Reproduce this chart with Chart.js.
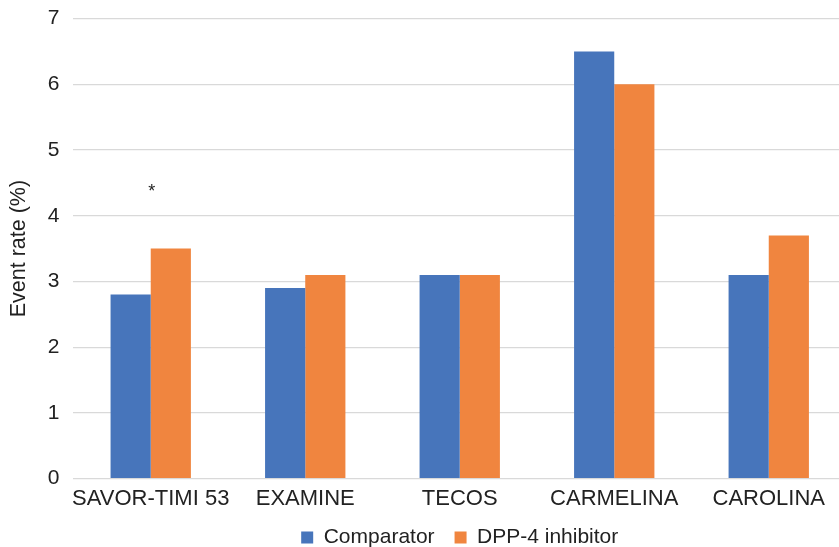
<!DOCTYPE html>
<html>
<head>
<meta charset="utf-8">
<script src="https://cdn.jsdelivr.net/npm/chart.js@4"></script>
<style>
  html, body { margin: 0; padding: 0; background: #fff; overflow: hidden; }
  #wrap { width: 846px; height: 566px; position: relative; top: -8px; }
</style>
</head>
<body>
<div id="wrap"><canvas id="eventChart"></canvas></div>
<script>
// Chart data
const trials = ['SAVOR-TIMI 53', 'EXAMINE', 'TECOS', 'CARMELINA', 'CAROLINA'];
const comparatorRates = [2.8, 2.9, 3.1, 6.5, 3.1];
const dpp4Rates = [3.5, 3.1, 3.1, 6.0, 3.7];
const yTicks = [0, 1, 2, 3, 4, 5, 6, 7];

// Significance mark above SAVOR-TIMI 53
const starTrial = 0;
const starValue = 4.4;

const FONT = "'Liberation Sans', Arial, sans-serif";

const starPlugin = {
    id: 'starMark',
    afterDatasetsDraw: function(chart) {
        const ctx = chart.ctx;
        const x = chart.scales.x.getPixelForValue(starTrial);
        const y = chart.scales.y.getPixelForValue(starValue);
        ctx.save();
        ctx.fillStyle = '#222';
        ctx.font = '18px ' + FONT;
        ctx.textAlign = 'center';
        ctx.textBaseline = 'middle';
        ctx.fillText('*', x + 1, y + 3);
        ctx.restore();
    }
};

const ctx = document.getElementById('eventChart').getContext('2d');
const eventChart = new Chart(ctx, {
    type: 'bar',
    data: {
        labels: trials,
        datasets: [
            { label: 'Comparator', data: comparatorRates, backgroundColor: '#4775BB' },
            { label: 'DPP-4 inhibitor', data: dpp4Rates, backgroundColor: '#F0853F' }
        ]
    },
    options: {
        responsive: true,
        maintainAspectRatio: false,
        animation: false,
        categoryPercentage: 0.52,
        barPercentage: 1.0,
        layout: {
            padding: { top: 0, left: 6, right: 0, bottom: 0 }
        },
        plugins: {
            legend: {
                position: 'bottom',
                fullSize: false,
                labels: {
                    boxWidth: 12,
                    boxHeight: 12,
                    padding: 20,
                    color: '#222',
                    font: { family: FONT, size: 21 }
                }
            },
            tooltip: { enabled: false }
        },
        scales: {
            x: {
                grid: { display: false, drawTicks: false },
                border: { display: false },
                afterFit: function(axis) { axis.height -= 12; },
                ticks: {
                    color: '#222',
                    padding: 7,
                    maxRotation: 0,
                    autoSkip: false,
                    font: { family: FONT, size: 22 }
                }
            },
            y: {
                min: 0,
                max: 7,
                afterBuildTicks: function(axis) {
                    axis.ticks = yTicks.map(function(v) { return { value: v }; });
                },
                afterFit: function(axis) { axis.width -= 14; },
                grid: { color: '#d9d9d9', lineWidth: 1.3, drawTicks: false },
                border: { display: false },
                title: {
                    display: true,
                    text: 'Event rate (%)',
                    color: '#222',
                    padding: { top: 0, bottom: 16 },
                    font: { family: FONT, size: 21.5 }
                },
                ticks: {
                    color: '#222',
                    padding: 14,
                    font: { family: FONT, size: 21 }
                }
            }
        }
    },
    plugins: [starPlugin]
});
</script>
</body>
</html>
